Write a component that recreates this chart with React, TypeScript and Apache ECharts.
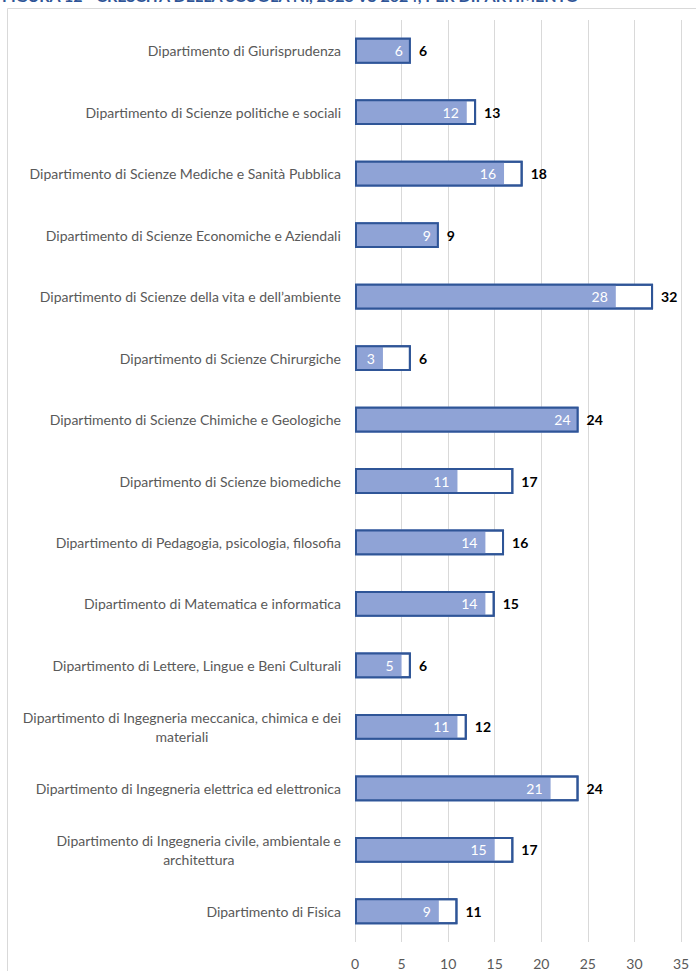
import React, { useEffect, useRef } from "react";
import * as echarts from "echarts";

const titleText = "FIGURA 12 - CRESCITA DELLA SCUOLA N., 2023 VS 2024, PER DIPARTIMENTO";

const departments = [
  "Dipartimento di Giurisprudenza",
  "Dipartimento di Scienze politiche e sociali",
  "Dipartimento di Scienze Mediche e Sanità Pubblica",
  "Dipartimento di Scienze Economiche e Aziendali",
  "Dipartimento di Scienze della vita e dell’ambiente",
  "Dipartimento di Scienze Chirurgiche",
  "Dipartimento di Scienze Chimiche e Geologiche",
  "Dipartimento di Scienze biomediche",
  "Dipartimento di Pedagogia, psicologia, filosofia",
  "Dipartimento di Matematica e informatica",
  "Dipartimento di Lettere, Lingue e Beni Culturali",
  "Dipartimento di Ingegneria meccanica, chimica e dei\nmateriali",
  "Dipartimento di Ingegneria elettrica ed elettronica",
  "Dipartimento di Ingegneria civile, ambientale e\narchitettura",
  "Dipartimento di Fisica",
];

const values2023 = [6, 12, 16, 9, 28, 3, 24, 11, 14, 14, 5, 11, 21, 15, 9];
const values2024 = [6, 13, 18, 9, 32, 6, 24, 17, 16, 15, 6, 12, 24, 17, 11];

const xTicks = [0, 5, 10, 15, 20, 25, 30, 35];

const FONT = "Lato, 'Liberation Sans', sans-serif";
const FILL = "#8FA3D6";
const EDGE = "#2F5597";

export default function App() {
  const ref = useRef<HTMLDivElement>(null);
  useEffect(() => {
    document.body.style.margin = "0";
    const chart = echarts.init(ref.current!, undefined, { renderer: "svg" });
    chart.setOption({
      animation: false,
      backgroundColor: "#ffffff",
      grid: { left: 355, right: 15, top: 20, bottom: 29, containLabel: false },
      xAxis: {
        type: "value",
        min: xTicks[0],
        max: xTicks[xTicks.length - 1],
        interval: 5,
        axisLine: { show: false },
        axisTick: { show: false },
        splitLine: { show: true, lineStyle: { color: "#D9D9D9", width: 1 } },
        axisLabel: { color: "#595959", fontSize: 14, fontFamily: FONT, margin: 14 },
      },
      yAxis: {
        type: "category",
        inverse: true,
        data: departments,
        axisLine: { show: false },
        axisTick: { show: false },
        axisLabel: {
          color: "#595959",
          fontSize: 14,
          fontFamily: FONT,
          margin: 14,
          lineHeight: 19,
          formatter: (v: string) =>
            v
              .split("\n")
              .map((s) => `{c|${s}}`)
              .join("\n"),
          rich: {
            c: { align: "center", fontSize: 14, fontFamily: FONT, color: "#595959", lineHeight: 19 },
          },
        },
      },
      series: [
        {
          type: "bar",
          data: values2024,
          barWidth: "42%",
          barGap: "-100%",
          z: 2,
          itemStyle: { color: "#ffffff", borderColor: EDGE, borderWidth: 2 },
        },
        {
          type: "bar",
          data: values2023,
          barWidth: "42%",
          barGap: "-100%",
          z: 3,
          itemStyle: { color: FILL },
          label: {
            show: true,
            position: "insideRight",
            distance: 8,
            color: "#ffffff",
            fontSize: 14,
            fontFamily: FONT,
          },
        },
        {
          type: "bar",
          data: values2024,
          barWidth: "42%",
          barGap: "-100%",
          z: 4,
          itemStyle: { color: "rgba(0,0,0,0)", borderColor: EDGE, borderWidth: 2 },
          label: {
            show: true,
            position: "right",
            distance: 8,
            color: "#000000",
            fontWeight: "bold",
            fontSize: 14,
            fontFamily: FONT,
          },
        },
      ],
      graphic: [
        {
          type: "rect",
          shape: { x: 7.5, y: 8.5, width: 720, height: 1000 },
          style: { fill: "none", stroke: "#D9D9D9", lineWidth: 1 },
          silent: true,
          z: -1,
        },
        {
          type: "text",
          left: 2,
          top: -13,
          style: {
            text: titleText,
            fill: "#2F5597",
            font: `bold 16px ${FONT}`,
          },
        },
      ],
    });
    return () => chart.dispose();
  }, []);
  return <div ref={ref} style={{ width: 696, height: 971 }} />;
}
